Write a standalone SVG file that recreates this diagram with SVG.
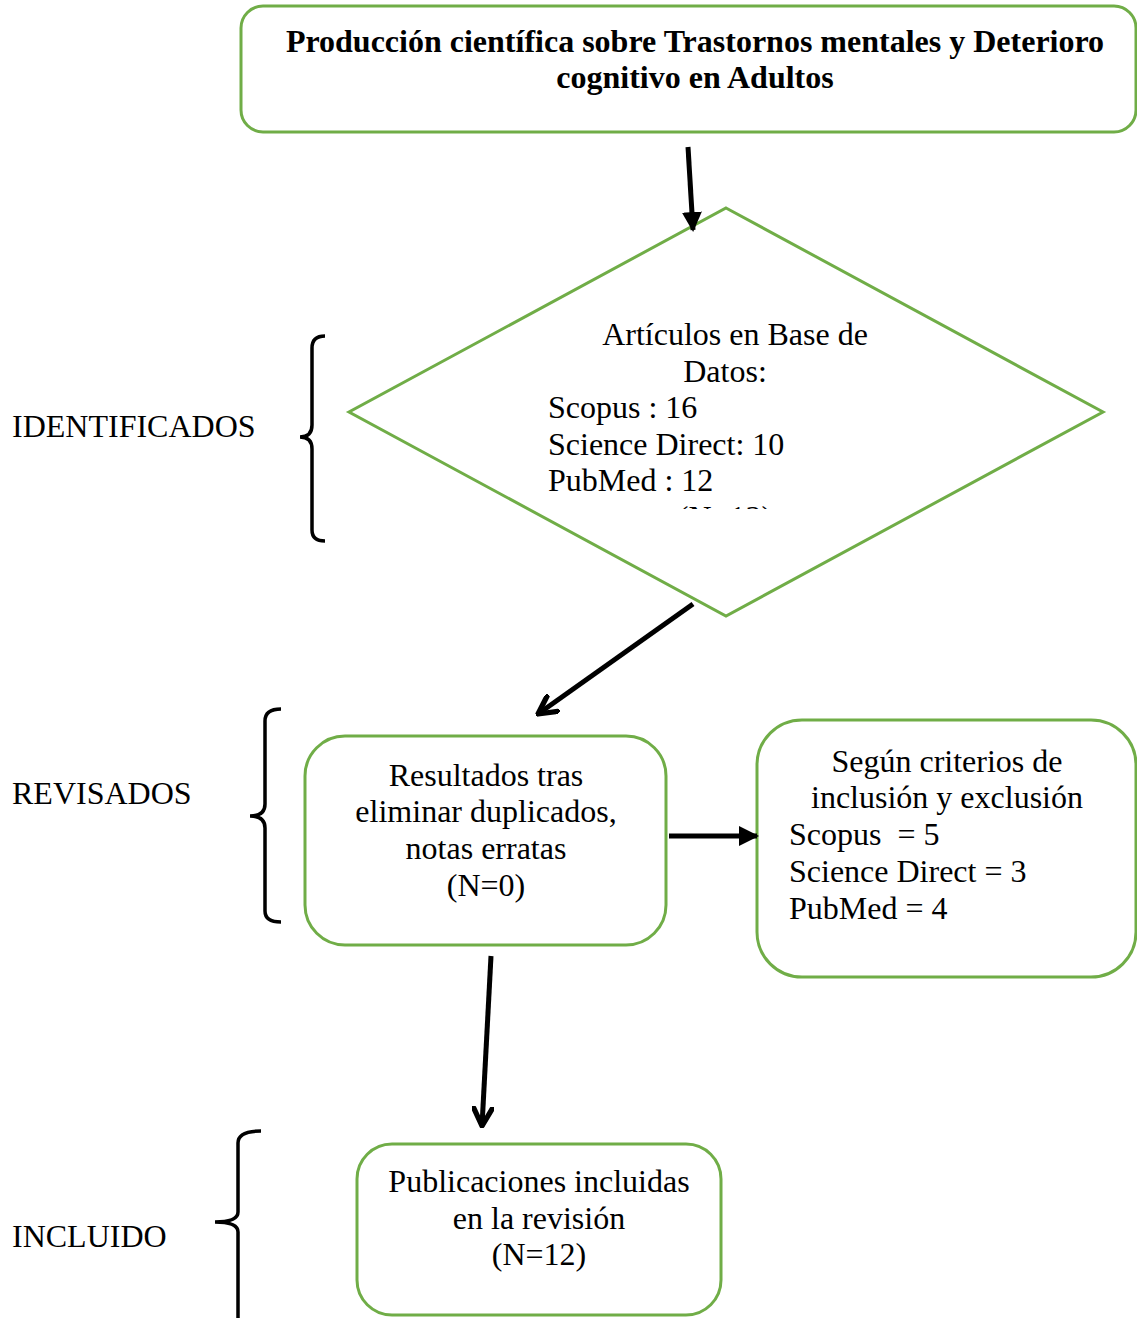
<svg xmlns="http://www.w3.org/2000/svg" width="1137" height="1318" viewBox="0 0 1137 1318">
<style>
.box{fill:#fff;stroke:#70AD47;stroke-width:3}
.t{font-family:"Liberation Serif","Times New Roman",serif;font-size:32px;fill:#000}
.c{text-anchor:middle}
.b{font-weight:bold;font-size:32px}
.ln{stroke:#000;stroke-width:5;fill:none}
.br{stroke:#000;stroke-width:3.5;fill:none}
</style>
<defs>
<marker id="tri" viewBox="0 0 10 10" refX="9" refY="5" markerWidth="4" markerHeight="4" orient="auto" markerUnits="strokeWidth">
<path d="M0,0 L10,5 L0,10 z" fill="#000"/>
</marker>
<marker id="chev" viewBox="0 0 10 10" refX="9" refY="5" markerWidth="4.4" markerHeight="4.4" orient="auto" markerUnits="strokeWidth">
<path d="M1,0.8 L9,5 L1,9.2" fill="none" stroke="#000" stroke-width="2.4" stroke-linecap="round" stroke-linejoin="round"/>
</marker>
<clipPath id="dclip"><rect x="340" y="200" width="770" height="309"/></clipPath>
</defs>
<rect width="1137" height="1318" fill="#fff"/>

<g id="labels">
<text class="t" x="12" y="437">IDENTIFICADOS</text>
<text class="t" x="12" y="804">REVISADOS</text>
<text class="t" x="12" y="1247">INCLUIDO</text>
</g>

<g id="braces">
<path class="br" d="M325,336 Q312,336 312,348 L312,425 Q312,437 300,437 Q312,437 312,449 L312,530 Q312,541 325,541"/>
<path class="br" d="M281,709 Q265,709 265,721 L265,804 Q265,816 250,816 Q265,816 265,828 L265,911 Q265,922 281,922"/>
<path class="br" d="M261,1131 Q238,1131 238,1143 L238,1212 Q238,1222 215,1222 Q238,1222 238,1232 L238,1318"/>
</g>

<g id="n1">
<rect class="box" x="241" y="6" width="895" height="126" rx="22"/>
<text class="t b c" x="695" y="52">Producción científica sobre Trastornos mentales y Deterioro</text>
<text class="t b c" x="695" y="88">cognitivo en Adultos</text>
</g>

<g id="n2">
<polygon class="box" points="726,208 1103,412 726,616 349,412"/>
<g clip-path="url(#dclip)">
<text class="t c" x="735" y="345">Artículos en Base de</text>
<text class="t c" x="725" y="382">Datos:</text>
<text class="t" x="548" y="418">Scopus : 16</text>
<text class="t" x="548" y="455">Science Direct: 10</text>
<text class="t" x="548" y="491">PubMed : 12</text>
<text class="t c" x="725" y="528">(N=12)</text>
</g>
</g>

<g id="n3">
<rect class="box" x="305" y="736" width="361" height="209" rx="40"/>
<text class="t c" x="486" y="786">Resultados tras</text>
<text class="t c" x="486" y="822">eliminar duplicados,</text>
<text class="t c" x="486" y="859">notas erratas</text>
<text class="t c" x="486" y="896">(N=0)</text>
</g>

<g id="n4">
<rect class="box" x="757" y="720" width="379" height="257" rx="45"/>
<text class="t c" x="947" y="772">Según criterios de</text>
<text class="t c" x="947" y="808">inclusión y exclusión</text>
<text class="t" x="789" y="845" xml:space="preserve">Scopus  = 5</text>
<text class="t" x="789" y="882">Science Direct = 3</text>
<text class="t" x="789" y="919">PubMed = 4</text>
</g>

<g id="n5">
<rect class="box" x="357" y="1144" width="364" height="171" rx="35"/>
<text class="t c" x="539" y="1192">Publicaciones incluidas</text>
<text class="t c" x="539" y="1229">en la revisión</text>
<text class="t c" x="539" y="1265">(N=12)</text>
</g>

<g id="connectors">
<line class="ln" x1="688" y1="147" x2="693" y2="230" marker-end="url(#tri)"/>
<line class="ln" x1="693" y1="604" x2="538" y2="714" marker-end="url(#chev)"/>
<line class="ln" x1="669" y1="836" x2="757" y2="836" marker-end="url(#tri)"/>
<line class="ln" x1="491" y1="956" x2="482" y2="1126" marker-end="url(#chev)"/>
</g>
</svg>
